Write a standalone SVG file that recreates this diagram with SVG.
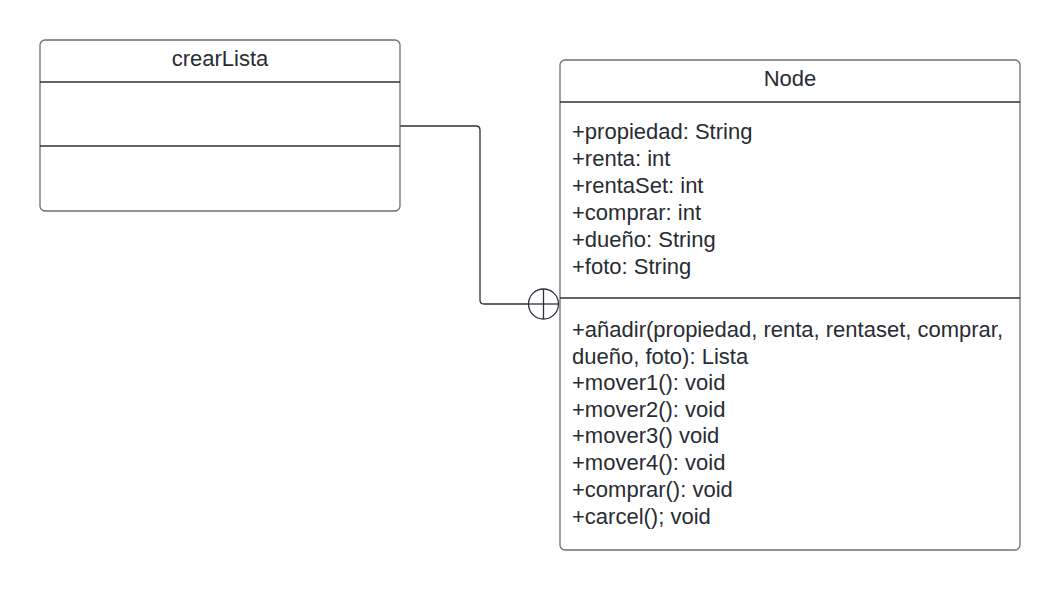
<svg xmlns="http://www.w3.org/2000/svg" width="1060" height="591" viewBox="0 0 1060 591">
<style>
.box{fill:#fff;stroke:#6b6f76;stroke-width:1.3}
.div{stroke:#2e3138;stroke-width:1.3}
.t{font-family:"Liberation Sans",Arial,sans-serif;font-size:22px;fill:#282c33}
.title{text-anchor:middle}
.conn{fill:none;stroke:#2e3138;stroke-width:1.3}
</style>
<rect width="1060" height="591" fill="#fff"/>
<g id="connectors">
<path class="conn" d="M400,126 H476 Q480,126 480,130 V300 Q480,304 484,304 H528.5"/>
<circle class="conn" cx="543.5" cy="304" r="15"/>
<line class="conn" x1="528.5" y1="304" x2="558.5" y2="304"/>
<line class="conn" x1="543.5" y1="289" x2="543.5" y2="319"/>
</g>
<g id="crearLista">
<rect class="box" x="40" y="40" width="360" height="171" rx="5"/>
<line class="div" x1="40" y1="82" x2="400" y2="82"/>
<line class="div" x1="40" y1="146" x2="400" y2="146"/>
<text class="t title" x="220" y="66">crearLista</text>
</g>
<g id="Node">
<rect class="box" x="560" y="60" width="460" height="490" rx="5"/>
<line class="div" x1="560" y1="102" x2="1020" y2="102"/>
<line class="div" x1="560" y1="298" x2="1020" y2="298"/>
<text class="t title" x="790" y="86">Node</text>
<text class="t" x="572" y="139">+propiedad: String</text>
<text class="t" x="572" y="166">+renta: int</text>
<text class="t" x="572" y="193">+rentaSet: int</text>
<text class="t" x="572" y="220">+comprar: int</text>
<text class="t" x="572" y="247">+dueño: String</text>
<text class="t" x="572" y="274">+foto: String</text>
<text class="t" x="572" y="337">+añadir(propiedad, renta, rentaset, comprar,</text>
<text class="t" x="572" y="363.5">dueño, foto): Lista</text>
<text class="t" x="572" y="390">+mover1(): void</text>
<text class="t" x="572" y="416.5">+mover2(): void</text>
<text class="t" x="572" y="443">+mover3() void</text>
<text class="t" x="572" y="469.5">+mover4(): void</text>
<text class="t" x="572" y="496.5">+comprar(): void</text>
<text class="t" x="572" y="523.5">+carcel(); void</text>
</g>
</svg>
